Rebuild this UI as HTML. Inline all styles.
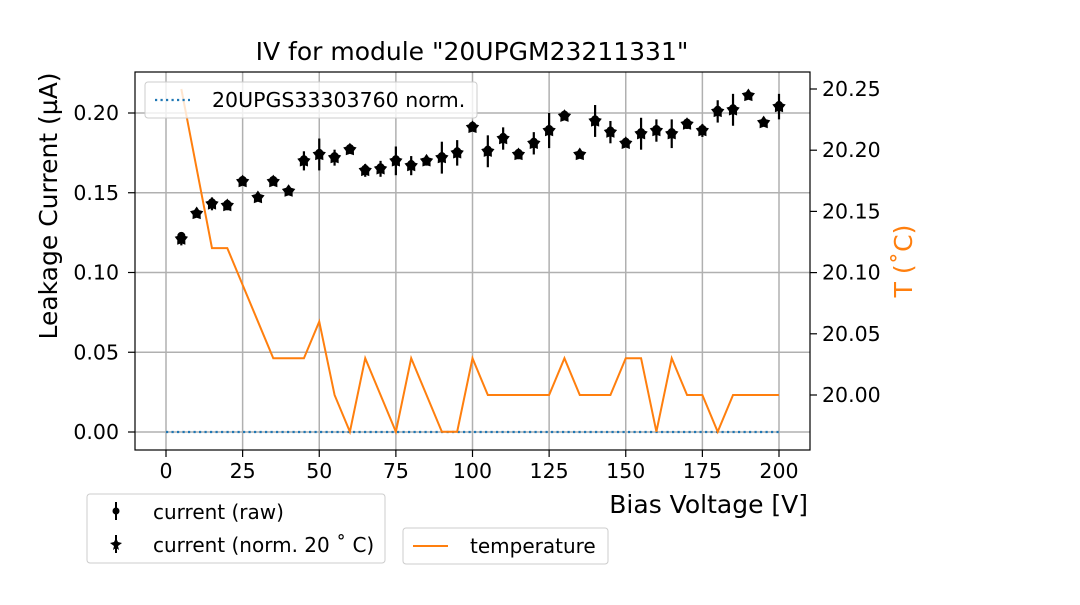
<!DOCTYPE html>
<html><head><meta charset="utf-8"><style>
body{margin:0;background:#fff}
svg{font-family:"DejaVu Sans","Liberation Sans",sans-serif}
</style></head><body>
<svg id="c" width="1080" height="600" xmlns="http://www.w3.org/2000/svg"></svg>
<script>
const voltages=[5,10,15,20,25,30,35,40,45,50,55,60,65,70,75,80,85,90,95,100,105,110,115,120,125,130,135,140,145,150,155,160,165,170,175,180,185,190,195,200];
const currentNorm=[0.121,0.137,0.143,0.142,0.157,0.147,0.157,0.151,0.170,0.174,0.172,0.177,0.164,0.165,0.170,0.167,0.170,0.172,0.175,0.191,0.176,0.184,0.174,0.181,0.189,0.198,0.174,0.195,0.188,0.181,0.187,0.189,0.187,0.193,0.189,0.201,0.202,0.211,0.194,0.204];
const currentRaw=[0.123,0.137,0.144,0.143,0.158,0.147,0.158,0.151,0.171,0.175,0.173,0.178,0.165,0.166,0.171,0.168,0.170,0.173,0.176,0.192,0.177,0.185,0.175,0.182,0.190,0.199,0.174,0.196,0.189,0.182,0.188,0.190,0.188,0.194,0.190,0.202,0.203,0.211,0.194,0.205];
const currentErr=[0.004,0.002,0.004,0.003,0.002,0.002,0.002,0.002,0.006,0.010,0.005,0.002,0.004,0.005,0.009,0.006,0.003,0.010,0.008,0.002,0.010,0.007,0.003,0.007,0.011,0.002,0.002,0.010,0.007,0.002,0.010,0.007,0.009,0.003,0.004,0.007,0.010,0.002,0.002,0.008];
const temperature=[20.25,20.185,20.12,20.12,20.09,20.06,20.03,20.03,20.03,20.06,20.0,19.97,20.03,20.0,19.97,20.03,20.0,19.97,19.97,20.03,20.0,20.0,20.0,20.0,20.0,20.03,20.0,20.0,20.0,20.03,20.03,19.97,20.03,20.0,20.0,19.97,20.0,20.0,20.0,20.0];
const refV=[0,200];const refI=[0,0];
const xTicks=[0,25,50,75,100,125,150,175,200];
const yTicks=[0,0.05,0.10,0.15,0.20];
const tTicks=[20.0,20.05,20.10,20.15,20.20,20.25];

const NS="http://www.w3.org/2000/svg";
const svg=document.getElementById('c');
const L=135,R=810,T=72,B=450;
const X=v=>166+(v-0)*(779-166)/200;
const Y=i=>432-i*(432-113)/0.2;
const YT=t=>395-(t-20)*(395-89)/0.25;
function el(tag,a,parent){const e=document.createElementNS(NS,tag);for(const k in a)e.setAttribute(k,a[k]);(parent||svg).appendChild(e);return e;}
function txt(s,a){const e=el('text',a);e.textContent=s;return e;}
xTicks.forEach(v=>{const g=el('line',{x1:X(v),x2:X(v),y1:T,y2:B,stroke:'#b0b0b0','stroke-width':1.5});

});
yTicks.forEach(v=>{const g=el('line',{x1:L,x2:R,y1:Y(v),y2:Y(v),stroke:'#b0b0b0','stroke-width':1.5});

});
const ref=el('line',{x1:X(refV[0]),x2:X(refV[1]),y1:Y(refI[0]),y2:Y(refI[1]),stroke:'#1f77b4','stroke-width':2.2,'stroke-dasharray':'2.2,3.3'});


const tl=el('polyline',{points:voltages.map((v,i)=>X(v)+','+YT(temperature[i])).join(' '),fill:'none',stroke:'#ff7f0e','stroke-width':2});


function star(cx,cy,r){let p=[];for(let k=0;k<10;k++){const a=-Math.PI/2+k*Math.PI/5;const rr=k%2?r*0.6:r;p.push((cx+rr*Math.cos(a)).toFixed(1)+','+(cy+rr*Math.sin(a)).toFixed(1));}return p.join(' ');}
voltages.forEach((v,i)=>{
 const x=X(v);
 const e=el('line',{x1:x,x2:x,y1:Y(currentNorm[i]+currentErr[i]),y2:Y(currentNorm[i]-currentErr[i]),stroke:'#000','stroke-width':2.2});
 
 
 const c=el('circle',{cx:x,cy:Y(currentRaw[i]),r:4,fill:'#000'});
 
 
 const s=el('polygon',{points:star(x,Y(currentNorm[i]),7),fill:'#000'});
 
 
});
el('rect',{x:L,y:T,width:R-L,height:B-T,fill:'none',stroke:'#000','stroke-width':1.2});
xTicks.forEach(v=>{el('line',{x1:X(v),x2:X(v),y1:B,y2:B+7,stroke:'#000','stroke-width':1.2});const t=txt(String(v),{x:X(v),y:B+28,'text-anchor':'middle','font-size':20.5});

});
yTicks.forEach(v=>{el('line',{x1:L-7,x2:L,y1:Y(v),y2:Y(v),stroke:'#000','stroke-width':1.2});const t=txt(v.toFixed(2),{x:L-16,y:Y(v)+7,'text-anchor':'end','font-size':20.5});

});
tTicks.forEach(v=>{el('line',{x1:R,x2:R+7,y1:YT(v),y2:YT(v),stroke:'#000','stroke-width':1.2});const t=txt(v.toFixed(2),{x:R+12,y:YT(v)+7,'font-size':20.5});

});
</script>
<svg width="1080" height="600" style="position:absolute;left:0;top:0" xmlns="http://www.w3.org/2000/svg">
<text x="472" y="60" text-anchor="middle" font-size="25">IV for module "20UPGM23211331"</text>
<text transform="translate(57,206) rotate(-90)" text-anchor="middle" font-size="25">Leakage Current (µA)</text>
<text transform="translate(912,261) rotate(-90)" text-anchor="middle" font-size="25" fill="#ff7f0e">T (˚C)</text>
<text x="808" y="513" text-anchor="end" font-size="25">Bias Voltage [V]</text>
<g>
<rect x="145" y="82" width="332" height="36" rx="3" fill="#fff" fill-opacity="0.8" stroke="#ccc"/>
<line x1="155" x2="190" y1="100" y2="100" stroke="#1f77b4" stroke-width="2.2" stroke-dasharray="2.2,3.3"/>
<text x="212" y="107" font-size="20.5">20UPGS33303760 norm.</text>
</g>
<g>
<rect x="87" y="494" width="298" height="69" rx="3" fill="#fff" stroke="#ccc"/>
<line x1="116" x2="116" y1="502" y2="520" stroke="#000" stroke-width="2"/><circle cx="116" cy="511" r="3.5"/>
<text x="153" y="519" font-size="20">current (raw)</text>
<line x1="116" x2="116" y1="535" y2="553" stroke="#000" stroke-width="2"/><polygon points="116,538 118,542 122,543 118,546 119,550 116,548 113,550 114,546 110,543 114,542"/>
<text x="153" y="552" font-size="20">current (norm. 20 ˚ C)</text>
</g>
<g>
<rect x="403" y="528" width="205" height="36" rx="3" fill="#fff" stroke="#ccc"/>
<line x1="413" x2="448" y1="546" y2="546" stroke="#ff7f0e" stroke-width="2"/>
<text x="470" y="553" font-size="20">temperature</text>
</g>
</svg>
</body></html>
